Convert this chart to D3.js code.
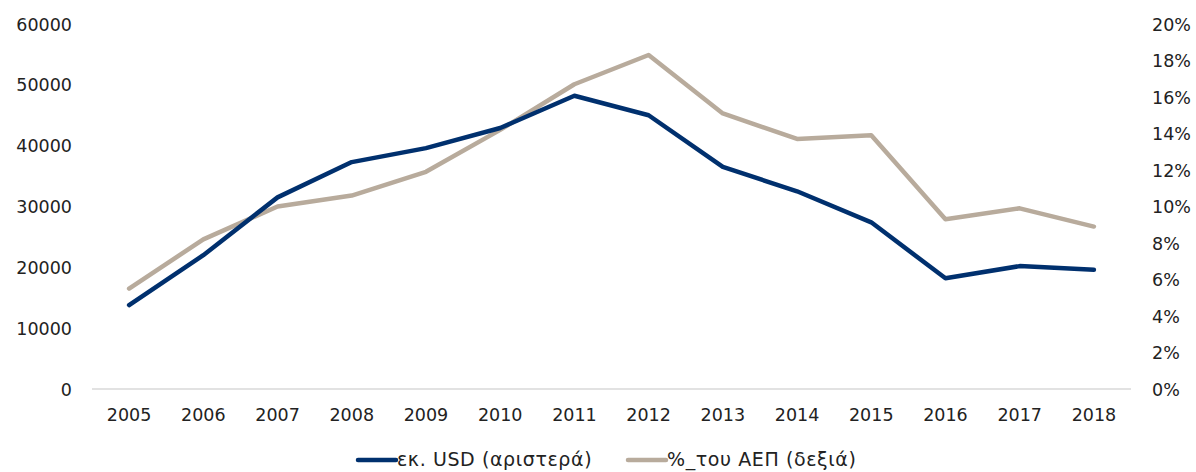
<!DOCTYPE html>
<html>
<head>
<meta charset="utf-8">
<script src="https://cdn.jsdelivr.net/npm/d3@7"></script>
<style>
  body { margin: 0; background: #fff; }
  svg text { font-family: "DejaVu Sans", sans-serif; fill: #222; }
</style>
</head>
<body>
<div id="chart"></div>
<script>
// data
const years = ['2005','2006','2007','2008','2009','2010','2011','2012','2013','2014','2015','2016','2017','2018'];
const usdValues = [13800, 22000, 31500, 37300, 39600, 42900, 48200, 45000, 36500, 32500, 27400, 18200, 20200, 19600];
const gdpShare = [0.055, 0.082, 0.100, 0.106, 0.119, 0.142, 0.167, 0.183, 0.151, 0.137, 0.139, 0.093, 0.099, 0.089];
const leftTicks = [0, 10000, 20000, 30000, 40000, 50000, 60000];
const rightTicks = [0, 0.02, 0.04, 0.06, 0.08, 0.10, 0.12, 0.14, 0.16, 0.18, 0.20];
const seriesNames = ['εκ. USD (αριστερά)', '%_του ΑΕΠ (δεξιά)'];

const width = 1196, height = 472;
const margins = { top: 24, bottom: 83, left: 92, right: 65 };
const colors = ['#00306e', '#b8ab9c'];
const fontSize = 17.5;

const svg = d3.select('#chart').append('svg')
    .attr('width', width).attr('height', height);

const xScale = d3.scaleBand()
    .domain(years)
    .range([margins.left, width - margins.right]);
const yLeft = d3.scaleLinear().domain([0, 60000]).range([height - margins.bottom, margins.top]);
const yRight = d3.scaleLinear().domain([0, 0.20]).range([height - margins.bottom, margins.top]);

// baseline
svg.append('line')
    .attr('x1', margins.left).attr('x2', width - margins.right)
    .attr('y1', yLeft(0)).attr('y2', yLeft(0))
    .attr('stroke', '#d9d9d9').attr('stroke-width', 1.5);

// axes
const leftAxis = svg.append('g')
    .attr('transform', `translate(${margins.left - 20},0)`)
    .call(d3.axisLeft(yLeft).tickValues(leftTicks).tickSize(0).tickPadding(0).tickFormat(d3.format('d')));
const rightAxis = svg.append('g')
    .attr('transform', `translate(${width - margins.right + 21},0)`)
    .call(d3.axisRight(yRight).tickValues(rightTicks).tickSize(0).tickPadding(0).tickFormat(d3.format('.0%')));
const bottomAxis = svg.append('g')
    .attr('transform', `translate(0,${yLeft(0) + 26})`)
    .call(d3.axisBottom(xScale).tickSize(0).tickPadding(0));

[leftAxis, rightAxis, bottomAxis].forEach(g => {
    g.select('.domain').remove();
    g.selectAll('text').attr('font-size', fontSize).attr('fill', '#222').attr('dy', '0.35em');
});

// lines
const xPos = (d, i) => xScale(years[i]) + xScale.bandwidth() / 2;
const lineLeft = d3.line().x(xPos).y(d => yLeft(d));
const lineRight = d3.line().x(xPos).y(d => yRight(d));

svg.append('path').datum(gdpShare)
    .attr('d', lineRight).attr('fill', 'none')
    .attr('stroke', colors[1]).attr('stroke-width', 4.5)
    .attr('stroke-linecap', 'round').attr('stroke-linejoin', 'round');
svg.append('path').datum(usdValues)
    .attr('d', lineLeft).attr('fill', 'none')
    .attr('stroke', colors[0]).attr('stroke-width', 4.5)
    .attr('stroke-linecap', 'round').attr('stroke-linejoin', 'round');

// legend
const legend = svg.append('g');
const legendItems = [{ x: 358 }, { x: 628 }];
legendItems.forEach((item, i) => {
    legend.append('line')
        .attr('x1', item.x).attr('x2', item.x + 38)
        .attr('y1', 460).attr('y2', 460)
        .attr('stroke', colors[i]).attr('stroke-width', 4.5)
        .attr('stroke-linecap', 'round');
    legend.append('text')
        .attr('x', item.x + 39).attr('y', 466)
        .attr('font-size', 19)
        .attr('letter-spacing', 0.6)
        .text(seriesNames[i]);
});
</script>
</body>
</html>
